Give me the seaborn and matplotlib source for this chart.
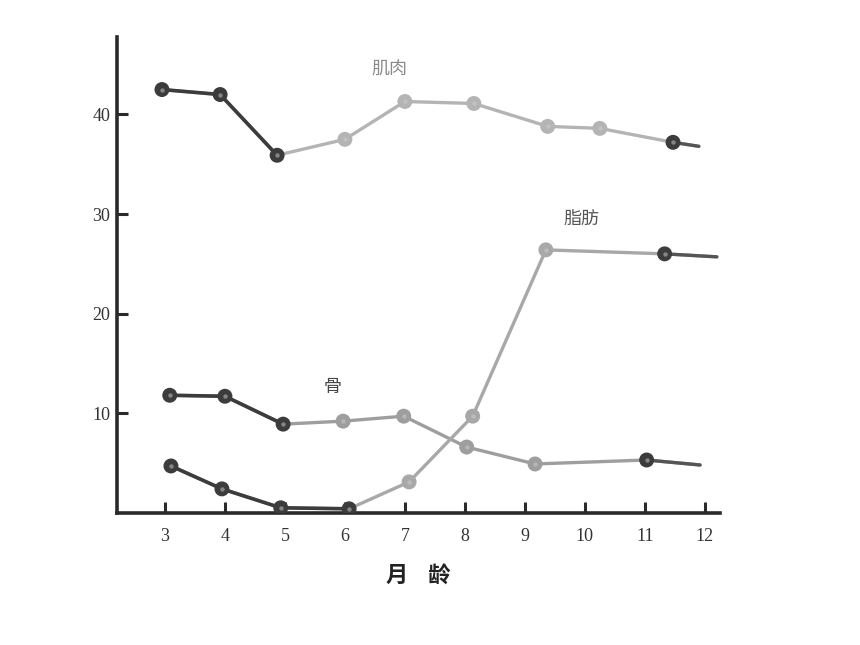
import pandas as pd
import matplotlib
matplotlib.use("Agg")
import matplotlib.pyplot as plt
import seaborn as sns

# values (month of age, percent)
muscle_x = [2.95, 3.92, 4.87, 6.0, 7.0, 8.15, 9.38, 10.25, 11.47, 11.9]
muscle_y = [42.5, 42.0, 35.9, 37.5, 41.3, 41.1, 38.8, 38.6, 37.2, 36.8]

bone_x = [3.08, 4.0, 4.97, 5.97, 6.98, 8.03, 9.17, 11.03, 11.92]
bone_y = [11.8, 11.7, 8.9, 9.2, 9.7, 6.6, 4.9, 5.3, 4.8]

fat_x = [3.1, 3.95, 4.93, 6.07, 7.07, 8.13, 9.35, 11.33, 12.2]
fat_y = [4.7, 2.4, 0.5, 0.4, 3.1, 9.7, 26.4, 26.0, 25.7]

month_ticks = [3, 4, 5, 6, 7, 8, 9, 10, 11, 12]
pct_ticks = [10, 20, 30, 40]

sns.set_style("ticks")
plt.rcParams['font.family'] = ['Liberation Serif', 'Noto Sans CJK SC', 'DejaVu Sans']

DARK = "#3c3c3c"

fig = plt.figure(figsize=(8.6, 6.45), dpi=100)
ax = fig.add_axes([0.136, 0.205, 0.701, 0.738])


def draw(xs, ys, n_dark, dark_marks, light, n_tail=2):
    df = pd.DataFrame({'x': xs, 'y': ys})
    # faded part of the printed line
    sns.lineplot(data=df, x='x', y='y', ax=ax, color=light, lw=2.4,
                 estimator=None, sort=False)
    # darker start and end of the line
    sns.lineplot(data=df.iloc[:n_dark], x='x', y='y', ax=ax, color=DARK, lw=2.6,
                 estimator=None, sort=False)
    sns.lineplot(data=df.iloc[-n_tail:], x='x', y='y', ax=ax, color="#555555", lw=2.4,
                 estimator=None, sort=False)
    pts = df.iloc[:-1]
    cols = [DARK if (i < n_dark or i in dark_marks) else light for i in range(len(pts))]
    sns.scatterplot(x=pts['x'], y=pts['y'], ax=ax, c=cols, s=95,
                    edgecolor=cols, linewidth=1.0, zorder=5)
    sns.scatterplot(x=pts['x'], y=pts['y'], ax=ax, color="#cfcfcf", s=10,
                    marker='o', linewidth=0, zorder=6, alpha=0.5)


draw(muscle_x, muscle_y, 3, [8], "#b4b4b4")
draw(bone_x, bone_y, 3, [7], "#9e9e9e")
draw(fat_x, fat_y, 4, [7], "#a8a8a8")

ax.set_xlim(2.2, 12.25)
ax.set_ylim(0, 47.8)
ax.set_xticks(month_ticks)
ax.set_yticks(pct_ticks)
ax.tick_params(axis='both', direction='in', length=8, width=2.2, colors="#2a2a2a",
               labelsize=13, labelcolor="#333333")
ax.tick_params(axis='x', pad=11)
ax.tick_params(axis='y', pad=5)
for side in ['top', 'right']:
    ax.spines[side].set_visible(False)
for side in ['left', 'bottom']:
    ax.spines[side].set_linewidth(2.6)
    ax.spines[side].set_color("#2a2a2a")

ax.set_xlabel("月    龄", fontsize=16, family=['Noto Sans CJK SC'], color="#222222",
              fontweight='bold', labelpad=14)
ax.set_ylabel("")

ax.text(6.75, 44.5, "肌肉", fontsize=13, family=['Noto Sans CJK SC'], color="#8a8a8a",
        ha='center', va='center')
ax.text(9.95, 29.5, "脂肪", fontsize=13, family=['Noto Sans CJK SC'], color="#555555",
        ha='center', va='center')
ax.text(5.8, 12.6, "骨", fontsize=13, family=['Noto Sans CJK SC'], color="#444444",
        ha='center', va='center')

fig.savefig("out.png", dpi=100, facecolor="white")
